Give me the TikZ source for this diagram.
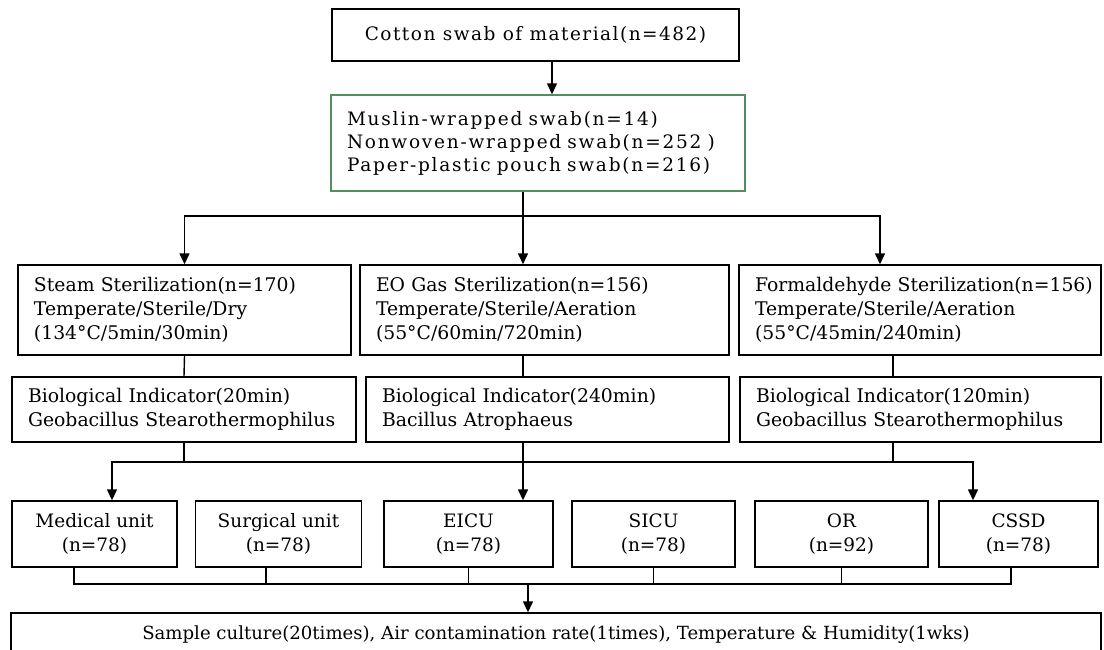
\documentclass[tikz,border=0pt]{standalone}
\usepackage{fontspec}
\setmainfont{DejaVu Serif}
\newfontfamily\spacedfont[LetterSpace=8]{DejaVu Serif}
\newfontfamily\widefont[LetterSpace=9.5]{DejaVu Serif}
\usetikzlibrary{arrows.meta}
\definecolor{boxgreen}{RGB}{84,141,96}
\begin{document}
\begin{tikzpicture}[x=1pt, y=-1pt, line width=1.4pt,
  every node/.style={font=\fontsize{18.8}{24}\selectfont},
  box/.style={draw, line width=1.4pt, inner sep=0pt, align=center},
  leftbox/.style={draw, line width=1.4pt, inner xsep=16pt, inner ysep=0pt, align=left},
  unitbox/.style={box, minimum height=66pt, font=\fontsize{18.5}{24}\selectfont},
  arr/.style={-{Triangle[width=10pt,length=11pt]}}]
\path[use as bounding box, clip] (0,0) rectangle (1104,649);
\node[box, minimum width=407pt, minimum height=52pt, font=\spacedfont\fontsize{18.5}{24}\selectfont] (swab) at (535.5,35) {Cotton swab of material(n=482)};
\node[leftbox, draw=boxgreen, text width=382pt, minimum height=96pt, font=\widefont\fontsize{18.5}{23}\selectfont] (wrap) at (538,143) {Muslin-wrapped swab(n=14)\\Nonwoven-wrapped swab(n=252 )\\Paper-plastic pouch swab(n=216)};
\node[leftbox, text width=301pt, minimum height=90pt] (steam) at (184.5,310) {Steam Sterilization(n=170)\\Temperate/Sterile/Dry\\(134°C/5min/30min)};
\node[leftbox, text width=337pt, minimum height=90pt] (eo) at (544.5,310) {EO Gas Sterilization(n=156)\\Temperate/Sterile/Aeration\\(55°C/60min/720min)};
\node[leftbox, text width=330pt, minimum height=90pt] (form) at (920,310) {\mbox{Formaldehyde Sterilization(n=156)}\\Temperate/Sterile/Aeration\\(55°C/45min/240min)};
\node[leftbox, text width=312pt, minimum height=65pt] (bisteam) at (184,409.5) {Biological Indicator(20min)\\Geobacillus Stearothermophilus};
\node[leftbox, text width=331pt, minimum height=65pt] (bieo) at (547.5,409.5) {Biological Indicator(240min)\\Bacillus Atrophaeus};
\node[leftbox, text width=329pt, minimum height=65pt] (biform) at (920.5,409.5) {Biological Indicator(120min)\\Geobacillus Stearothermophilus};
\node[unitbox, minimum width=165pt] (medical) at (94.5,534) {Medical unit\\(n=78)};
\node[unitbox, minimum width=166pt] (surgical) at (278.5,534) {Surgical unit\\(n=78)};
\node[unitbox, minimum width=169pt] (eicu) at (468.5,534) {EICU\\(n=78)};
\node[unitbox, minimum width=163pt] (sicu) at (653.5,534) {SICU\\(n=78)};
\node[unitbox, minimum width=173pt] (or) at (841.5,534) {OR\\(n=92)};
\node[unitbox, minimum width=159pt] (cssd) at (1018.5,534) {CSSD\\(n=78)};
\node[box, minimum width=1090pt, minimum height=44pt, font=\fontsize{18.1}{24}\selectfont] (culture) at (556,635) {Sample culture(20times), Air contamination rate(1times), Temperature \& Humidity(1wks)};
\coordinate (split) at (523,216);
\coordinate (unitbus) at (523,462);
\coordinate (join) at (528,584);
\draw[arr] ([xshift=16.5pt]swab.south) -- ([xshift=14pt]wrap.north);
\draw ([xshift=-15pt]wrap.south) -- (split);
\draw[arr] (split) -| (steam.north);
\draw[arr] (split) -- ([xshift=-21.5pt]eo.north);
\draw[arr] (split) -| ([xshift=-40pt]form.north);
\draw (steam.south) -- (bisteam.north);
\draw ([xshift=-21.5pt]eo.south) -- ([xshift=-24.5pt]bieo.north);
\draw ([xshift=-27pt]form.south) -- ([xshift=-27.5pt]biform.north);
\draw (bisteam.south) -- (bisteam.south |- unitbus);
\draw ([xshift=-27.5pt]biform.south) -- ++(0,20);
\draw[arr] ([xshift=-24.5pt]bieo.south) -- ([xshift=54.5pt]eicu.north);
\draw[arr] (unitbus) -| ([xshift=17.5pt]medical.north);
\draw[arr] (unitbus) -| ([xshift=-45.5pt]cssd.north);
\draw ([xshift=-20.5pt]medical.south) |- (join);
\draw ([xshift=-12.5pt]surgical.south) -- ++(0,17);
\draw (eicu.south) -- ++(0,17);
\draw (sicu.south) -- ++(0,17);
\draw (or.south) -- ++(0,17);
\draw ([xshift=-7.5pt]cssd.south) |- (join);
\draw[arr] (join) -- ([xshift=-28pt]culture.north);
\end{tikzpicture}
\end{document}
